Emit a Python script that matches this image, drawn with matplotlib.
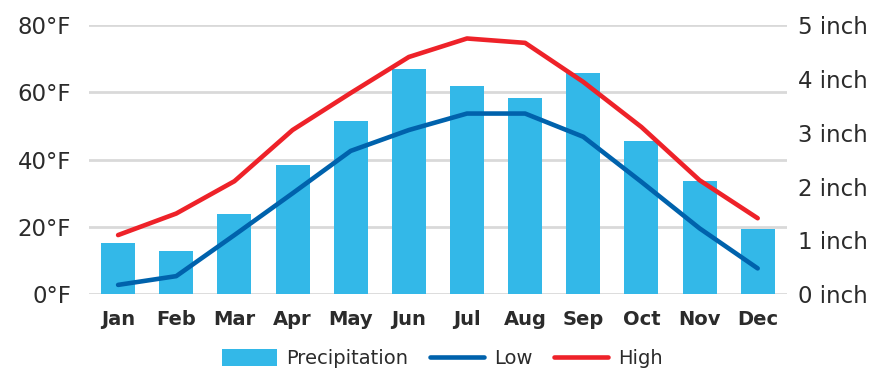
import matplotlib
matplotlib.use("Agg")
import matplotlib.pyplot as plt
import numpy as np

months = ["Jan", "Feb", "Mar", "Apr", "May", "Jun", "Jul", "Aug", "Sep", "Oct", "Nov", "Dec"]
precip_inch = [0.95, 0.80, 1.49, 2.41, 3.21, 4.19, 3.86, 3.65, 4.10, 2.84, 2.10, 1.21]
low_f = [2.8, 5.4, 17.6, 30.0, 42.6, 48.8, 53.7, 53.7, 46.8, 33.4, 19.6, 7.7]
high_f = [17.6, 24.0, 33.6, 48.8, 59.8, 70.5, 76.0, 74.7, 63.1, 49.7, 33.9, 22.6]
left_ticks = [0, 20, 40, 60, 80]
left_labels = ["0°F", "20°F", "40°F", "60°F", "80°F"]
right_ticks = [0, 1, 2, 3, 4, 5]
right_labels = ["0 inch", "1 inch", "2 inch", "3 inch", "4 inch", "5 inch"]

BAR = "#33B8E8"
LOW = "#0062AC"
HIGH = "#EE2229"
TXT = "#2b2b2b"
GRID = "#D9D9D9"

plt.rcParams['font.family'] = ['DejaVu Sans']

fig = plt.figure(figsize=(8.85, 3.69), dpi=100)
ax = fig.add_axes([0.1006, 0.2024, 0.7884, 0.7298])
ax2 = ax.twinx()

x = np.arange(len(months))
bars = ax2.bar(x, precip_inch, width=0.585, color=BAR, zorder=1, label="Precipitation")
ax2.set_ylim(0, 5)
ax.set_ylim(0, 80)
ax.set_xlim(-0.5, 11.5)

ax.set_zorder(ax2.get_zorder() + 1)
ax.patch.set_visible(False)
l1, = ax.plot(x, low_f, color=LOW, lw=3.3, solid_capstyle='round', solid_joinstyle='round', label="Low")
l2, = ax.plot(x, high_f, color=HIGH, lw=3.3, solid_capstyle='round', solid_joinstyle='round', label="High")

for t in left_ticks:
    ax2.axhline(t / 16.0, color=GRID, lw=2.0, zorder=0)

ax.set_yticks(left_ticks)
ax.set_yticklabels(left_labels)
ax2.set_yticks(right_ticks)
ax2.set_yticklabels(right_labels)
ax.set_xticks(x)
ax.set_xticklabels(months, fontweight='bold')

for a in (ax, ax2):
    for s in a.spines.values():
        s.set_visible(False)
    a.tick_params(length=0)

ax.tick_params(axis='y', labelsize=16.5, colors=TXT, pad=13)
ax2.tick_params(axis='y', labelsize=16.5, colors=TXT, pad=8)
ax.tick_params(axis='x', labelsize=14, colors=TXT, pad=11)

leg = fig.legend([bars, l1, l2], ["Precipitation", "Low", "High"], loc='lower center',
                 bbox_to_anchor=(0.5, -0.045), ncol=3, frameon=False, fontsize=14,
                 handlelength=2.8, handleheight=0.95, columnspacing=1.1, handletextpad=0.5,
                 labelcolor=TXT)

fig.savefig("out.png", dpi=100)
